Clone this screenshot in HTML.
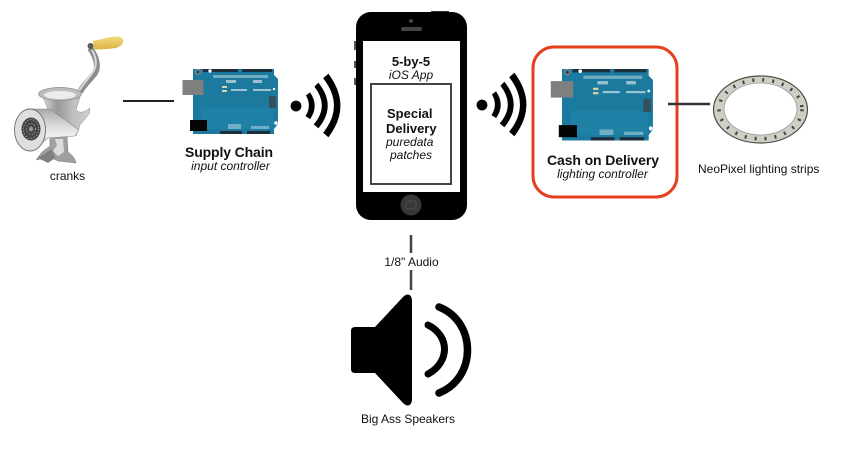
<!DOCTYPE html>
<html><head><meta charset="utf-8"><style>
html,body{margin:0;padding:0;background:#fff}
svg{display:block}
text{font-family:"Liberation Sans",sans-serif;fill:#111}
.b{font-weight:bold;font-size:13px}
.c{font-weight:bold;font-size:14px}
.i{font-style:italic;font-size:12px}
.r{font-size:12px}
</style></head><body>
<svg width="842" height="460" viewBox="0 0 842 460" xmlns="http://www.w3.org/2000/svg">
<defs>
<linearGradient id="st" x1="0" y1="0" x2="0" y2="1"><stop offset="0" stop-color="#a8a8a8"/><stop offset=".35" stop-color="#d6d6d6"/><stop offset=".65" stop-color="#efefef"/><stop offset="1" stop-color="#8c8c8c"/></linearGradient>
<linearGradient id="fn" x1="0" y1="0" x2="1" y2="0"><stop offset="0" stop-color="#d8d8d8"/><stop offset=".3" stop-color="#989898"/><stop offset=".65" stop-color="#c0c0c0"/><stop offset="1" stop-color="#d0d0d0"/></linearGradient>
<linearGradient id="hd" x1="0" y1="0" x2="0" y2="1"><stop offset="0" stop-color="#f3da80"/><stop offset="1" stop-color="#dcb444"/></linearGradient>
<g id="ard">
<path d="M0 0H81V6L85 10V55L81 60V65H0Z" fill="#1b7a9e"/>
<path d="M8 38H80V60H8Z" fill="#1f84a8" opacity=".7"/>
<rect x="10" y="0" width="35" height="3" fill="#1d2f3a"/>
<rect x="49" y="0" width="30" height="3" fill="#1d2f3a"/>
<rect x="27" y="62" width="22" height="3" fill="#1d2f3a"/>
<rect x="54" y="62" width="23" height="3" fill="#1d2f3a"/>
<circle cx="5" cy="3" r="3" fill="#77828a"/><circle cx="5" cy="3" r="1.4" fill="#30383d"/>
<circle cx="17" cy="2" r="1.7" fill="#fff"/><circle cx="83" cy="54" r="1.8" fill="#fff"/><circle cx="81" cy="20" r="1.2" fill="#fff"/>
<rect x="20" y="6" width="55" height="3" fill="#a9cfdc" opacity=".6"/>
<rect x="33" y="11" width="10" height="3" fill="#cfe3ea" opacity=".7"/><rect x="60" y="11" width="9" height="3" fill="#cfe3ea" opacity=".7"/>
<rect x="29" y="17" width="5" height="2" fill="#d8d6a8"/><rect x="29" y="21" width="5" height="2" fill="#d8d6a8"/>
<rect x="38" y="20" width="16" height="2" fill="#bcd8e2" opacity=".8"/><rect x="60" y="20" width="18" height="2" fill="#bcd8e2" opacity=".8"/>
<rect x="76" y="27" width="7" height="12" fill="#34505c"/>
<rect x="35" y="55" width="13" height="5" fill="#a9cfdc" opacity=".6"/><rect x="58" y="57" width="18" height="3" fill="#a9cfdc" opacity=".6"/>
<rect x="-10.500" y="11" width="21" height="15" fill="#7f7f7f"/>
<rect x="-3" y="51" width="17" height="11" fill="#050505"/>
</g>
<g id="wifi" fill="#000" stroke="#000" stroke-width=".8">
<circle cx="0" cy="0" r="5"/>
<path d="M14 -13Q22.600 0 14 12.500L10 10Q16.300 0 10.500 -10.500Z"/>
<path d="M22.300 -22.700Q40.300 0 22.300 21.700L18.300 18.300Q33.800 0 19 -19.300Z"/>
<path d="M32.300 -31.700Q55.700 0 32.300 30.700L27.700 26.700Q49 0 27.700 -27.700Z"/>
</g>
</defs>

<!-- grinder -->
<g>
<path d="M90 48C97 58 99 66 95 73C91 79 84 84 80 92" fill="none" stroke="#8c8c8c" stroke-width="6"/>
<path d="M92 50C97 59 97 66 93 72C89 78 83 84 79 91" fill="none" stroke="#d8d8d8" stroke-width="2"/>
<path d="M93 41L102 39C110 37 118 35 122 38C125 42 122 46 116 48C108 49 100 50 94 49Z" fill="url(#hd)"/>
<circle cx="90.500" cy="46" r="3" fill="#5c5c5c"/>
<path d="M50 135L67 136L68 152C72 155 75 158 76 163L58 161L50 157L36 160L42 152L50 146Z" fill="#a0a0a0" stroke="#777" stroke-width=".5"/>
<path d="M55 139L63 139L64 152L58 156L53 151L57 145Z" fill="#dcdcdc"/>
<path d="M38 158L52 149L55 158L48 163Z" fill="#7f7f7f"/>
<path d="M43 97H80L76 110C80 114 85 112 90 108L89 114L80 125L76 136L50 116C49 110 45 103 43 97Z" fill="url(#fn)" stroke="#8a8a8a" stroke-width=".5"/>
<ellipse cx="60" cy="94" rx="21.500" ry="6.500" fill="#bdbdbd" stroke="#8a8a8a" stroke-width=".7"/>
<ellipse cx="60" cy="95" rx="16" ry="4" fill="#ececec"/>
<path d="M28 109L50 109L79 130L75 136L48 138L32 151Z" fill="url(#st)" stroke="#8a8a8a" stroke-width=".6"/>
<ellipse cx="30" cy="130" rx="15.500" ry="21" fill="#dedede" stroke="#6e6e6e" stroke-width=".9"/>
<ellipse cx="31" cy="129" rx="9.500" ry="11.500" fill="#454545"/>
<ellipse cx="31" cy="129" rx="7.500" ry="9.500" fill="none" stroke="#b5b5b5" stroke-width="1" stroke-dasharray="1 2"/>
<ellipse cx="31" cy="129" rx="4.500" ry="5.500" fill="none" stroke="#b5b5b5" stroke-width="1" stroke-dasharray="1 2"/>
<ellipse cx="31" cy="129" rx="2" ry="2.500" fill="#999"/>
</g>
<text x="67.500" y="180" class="r" text-anchor="middle">cranks</text>
<path d="M123 101H174" stroke="#222" stroke-width="2"/>

<use href="#ard" x="193" y="69"/>
<text x="229" y="157" class="c" text-anchor="middle" textLength="88">Supply Chain</text>
<text x="230.500" y="170" class="i" text-anchor="middle">input controller</text>
<use href="#wifi" x="296" y="106"/>

<!-- phone -->
<rect x="354" y="41" width="3" height="9" fill="#555"/>
<rect x="354" y="61" width="3" height="7" fill="#555"/>
<rect x="354" y="78" width="3" height="7" fill="#555"/>
<rect x="431" y="11" width="18" height="3" fill="#333"/>
<rect x="356" y="12" width="111" height="208" rx="15" fill="#000"/>
<rect x="363" y="41" width="97" height="151" fill="#fff"/>
<circle cx="411" cy="21" r="2" fill="#444"/>
<rect x="401" y="27" width="21" height="4" rx="2" fill="#444"/>
<circle cx="411" cy="205" r="10.500" fill="#383838"/>
<rect x="406" y="201" width="10" height="8" rx="2.500" fill="none" stroke="#4d4d4d"/>
<rect x="371" y="84" width="80" height="100" fill="#fff" stroke="#444" stroke-width="2"/>
<text x="411" y="66" class="b" text-anchor="middle">5-by-5</text>
<text x="411" y="79" class="i" text-anchor="middle">iOS App</text>
<text x="387" y="118" class="b">Special</text>
<text x="386" y="133" class="b">Delivery</text>
<text x="386" y="146" class="i">puredata</text>
<text x="390" y="159" class="i">patches</text>

<use href="#wifi" x="482" y="105"/>

<!-- red box -->
<rect x="533" y="47" width="144" height="150" rx="21" fill="#fff" stroke="#e63f1f" stroke-width="3"/>
<g transform="translate(562 69) scale(1.07 1.1)"><use href="#ard"/></g>
<text x="603" y="165" class="c" text-anchor="middle" textLength="112">Cash on Delivery</text>
<text x="602.500" y="178" class="i" text-anchor="middle">lighting controller</text>
<path d="M668 104H710" stroke="#333" stroke-width="2.500"/>

<!-- ring -->
<path fill-rule="evenodd" d="M713.500 109.500a47 33.500 0 1 0 94 0a47 33.500 0 1 0 -94 0ZM724 109a36.500 26 0 1 0 73 0a36.500 26 0 1 0 -73 0Z" fill="#cfcfc5"/>
<ellipse cx="760.500" cy="109.500" rx="47" ry="33.500" fill="none" stroke="#4d4d45" stroke-width="1.200"/>
<ellipse cx="760.500" cy="109" rx="36.500" ry="26" fill="none" stroke="#999" stroke-width=".8"/>
<ellipse cx="760.500" cy="109.300" rx="41.500" ry="29.500" fill="none" stroke="#444" stroke-width="3.500" stroke-dasharray="2 8"/>
<text x="698" y="173" class="r">NeoPixel lighting strips</text>

<!-- audio -->
<path d="M411 235V253M411 270V290" stroke="#444" stroke-width="2.500"/>
<text x="411.500" y="266" class="r" text-anchor="middle">1/8" Audio</text>
<path d="M355 327H375L403 297C408 292 412 295 412 301V399C412 405 408 408 403 403L375 373H355C352 373 351 371 351 369V331C351 329 352 327 355 327Z" fill="#000"/>
<path d="M428 325C450 336 450 362 428 374" fill="none" stroke="#000" stroke-width="7" stroke-linecap="round"/>
<path d="M439 307C477 322 477 378 439 393" fill="none" stroke="#000" stroke-width="7.500" stroke-linecap="round"/>
<text x="408" y="423" class="r" text-anchor="middle">Big Ass Speakers</text>
</svg>
</body></html>
